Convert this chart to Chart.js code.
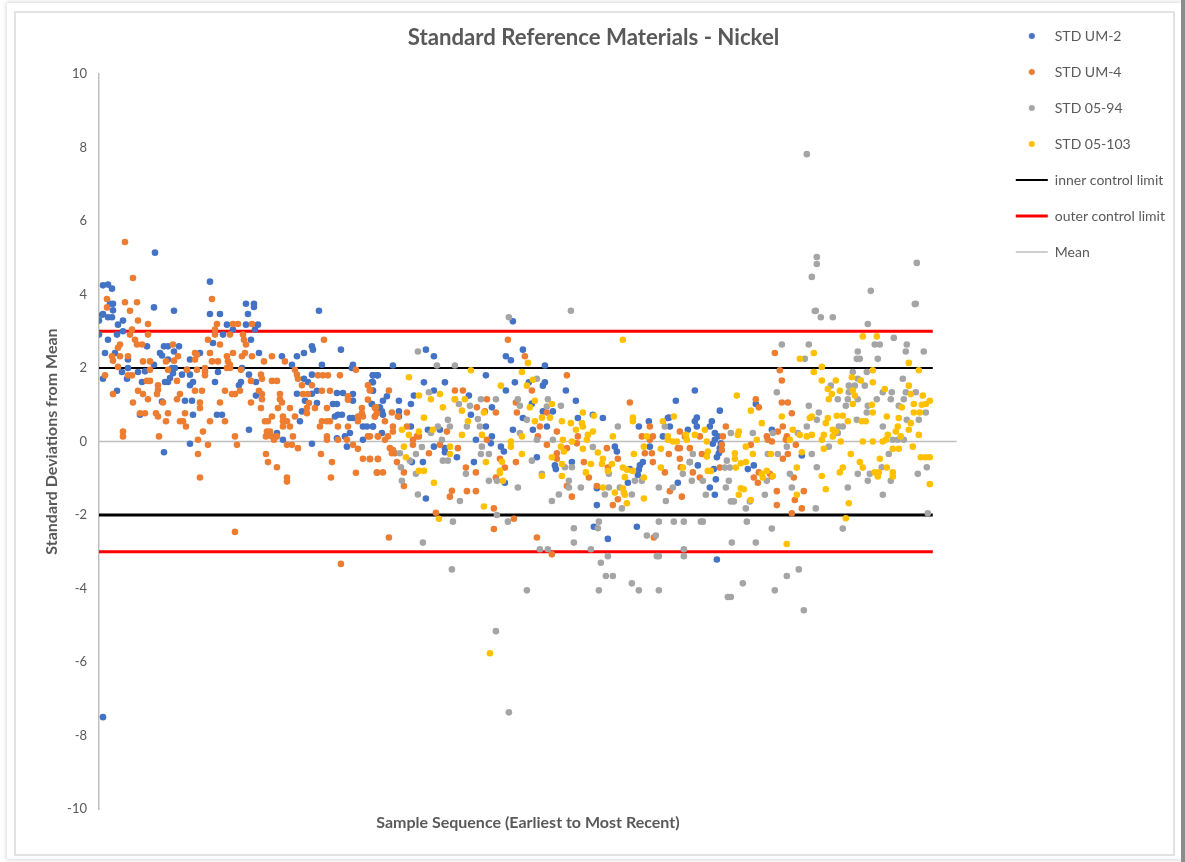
<!DOCTYPE html>
<html><head><meta charset="utf-8">
<script src="https://cdn.jsdelivr.net/npm/chart.js@4"></script>
<style>
html,body{margin:0;padding:0;background:#fff;width:1185px;height:862px;overflow:hidden}
#shadow{position:absolute;left:7px;top:3px;width:1174px;height:856px;box-sizing:border-box;background:#fff;box-shadow:0 0 4px 1px #d8d8d8}
#edge{position:absolute;left:1181px;top:0;width:4px;height:862px;background:#8c8c8c}
#frame{position:absolute;left:14px;top:11px;width:1161px;height:845px;box-sizing:border-box;border:2px solid #e2e2e2;background:#fff}
#wrap{position:absolute;left:0;top:0;width:1185px;height:862px}
canvas{filter:blur(.45px)}
</style></head><body>
<div id="shadow"></div><div id="edge"></div><div id="frame"></div>
<div id="wrap"><canvas id="c" width="1185" height="862"></canvas></div>
<script>
const chartTitle="Standard Reference Materials - Nickel";
const xTitle="Sample Sequence (Earliest to Most Recent)";
const yTitle="Standard Deviations from Mean";
const yTicks=[-10,-8,-6,-4,-2,0,2,4,6,8,10];
const limitEnd=834, seqEnd=858;
const innerLimits=[2,-2], outerLimits=[3,-3], meanValue=0;
const stdUm2=[[4,-7.5],[0,2.91],[0,3.29],[3,3.45],[4,4.25],[9,4.27],[13,4.16],[4,3.47],[9,3.38],[13,3.38],[14,3.75],[11,3.75],[14,3.57],[9,2.77],[6,2.41],[4,1.71],[18,2.91],[16,2.41],[19,3.18],[24,3.29],[24,3.0],[18,1.38],[23,1.89],[29,2.23],[29,2.0],[28,1.71],[39,1.89],[46,1.91],[41,.73],[43,1.62],[56,5.14],[55,3.65],[75,3.56],[48,2.59],[61,2.41],[63,2.34],[65,2.59],[69,2.59],[75,2.45],[80,2.59],[55,2.09],[69,2.23],[73,2.0],[76,2.0],[74,1.86],[71,1.73],[66,1.62],[69,1.62],[63,1.09],[65,-.29],[86,1.11],[93,1.11],[94,.73],[91,1.53],[94,1.62],[91,2.23],[101,2.41],[83,1.82],[91,1.82],[88,1.95],[111,4.35],[111,3.47],[121,3.47],[114,2.68],[128,3.18],[124,2.91],[134,3.05],[119,1.89],[116,1.62],[118,.73],[123,.73],[147,3.75],[149,3.47],[147,3.18],[155,3.75],[155,3.66],[159,3.18],[156,3.05],[152,2.77],[160,2.41],[150,1.82],[143,2.0],[142,1.62],[140,1.53],[157,1.62],[157,1.25],[150,.32],[91,-.06],[178,.23],[184,.05],[183,2.32],[193,2.09],[198,2.32],[205,2.41],[213,2.59],[214,2.5],[220,3.56],[242,2.5],[223,2.09],[213,1.82],[205,1.71],[209,1.62],[198,1.3],[206,1.11],[213,1.3],[218,1.38],[203,.82],[201,.55],[218,1.05],[234,1.02],[238,1.02],[236,.68],[239,.73],[243,.73],[238,1.32],[244,1.32],[254,2.09],[253,2.0],[254,1.29],[254,1.11],[251,.64],[254,.64],[259,.64],[264,.41],[268,.41],[274,.41],[264,.05],[251,.23],[246,.14],[238,.09],[248,-.14],[213,-.06],[274,1.8],[278,1.8],[273,1.62],[274,1.38],[273,1.02],[279,.91],
[294,2.07],[327,2.5],[335,2.32],[414,3.27],[407,2.32],[412,2.21],[424,2.5],[446,2.07],[387,1.8],[325,1.61],[346,1.61],[274,1.8],[279,1.8],[274,1.61],[335,1.39],[274,1.39],[416,1.61],[407,1.39],[430,1.61],[444,1.52],[446,1.61],[467,1.39],[288,1.23],[284,1.11],[300,1.11],[315,1.25],[312,1.02],[477,1.11],[393,.93],[370,1.25],[273,1.02],[281,.93],[283,.82],[284,.73],[300,.82],[300,.68],[372,.73],[454,.82],[444,.82],[424,.64],[433,1.03],[479,.64],[494,.73],[504,.64],[274,.41],[283,.23],[312,.41],[329,.32],[341,.32],[387,.41],[434,.32],[414,.32],[448,.41],[540,.41],[550,.55],[569,.64],[377,.05],[393,.14],[392,-.05],[402,-.14],[405,-.27],[516,-.14],[518,-.27],[564,.14],[551,-.14],[335,-.14],[346,-.18],[346,-.29],[358,-.43],[324,-.56],[313,-.56],[375,-.56],[438,-.43],[473,-.56],[456,-.65],[457,-.75],[531,-.75],[541,-.65],[544,-.56],[540,-.77],[539,-.91],[529,-1.12],[406,-1.12],[498,-1.27],[327,-1.55],[498,-1.73],[495,-2.32],[538,-2.32],[509,-2.65],
[596,1.39],[577,1.11],[621,.84],[657,1.02],[570,.65],[598,.65],[596,.55],[613,.55],[611,.41],[571,.41],[598,.41],[589,.32],[616,.23],[619,.14],[616,.05],[614,-.06],[622,-.05],[621,-.18],[620,-.32],[618,-.43],[673,.32],[703,-.38],[599,-.65],[655,-.65],[649,-.75],[615,-.75],[617,-1.03],[579,-1.12],[611,-1.25],[616,-1.45],[618,-3.21],[591,-.56]];
const stdUm4=[[136,-2.46],[242,-3.33],[26,5.43],[34,4.45],[26,3.79],[38,3.79],[8,3.88],[8,3.65],[31,3.56],[39,3.29],[49,3.2],[33,3.05],[31,2.91],[49,2.91],[36,2.77],[38,2.64],[43,2.64],[21,2.64],[19,2.55],[13,2.32],[14,2.2],[21,2.32],[29,2.32],[19,2.03],[33,1.8],[29,1.8],[6,1.8],[44,2.18],[51,2.18],[51,1.95],[48,1.65],[51,1.65],[39,1.38],[44,1.29],[49,1.15],[34,1.06],[59,1.53],[59,1.41],[58,1.29],[41,.77],[46,.77],[57,.77],[59,.68],[24,.27],[24,.14],[60,.14],[14,1.29],[67,.55],[69,.77],[64,1.06],[74,2.64],[79,2.32],[75,2.2],[67,2.18],[69,1.95],[78,1.65],[81,1.29],[78,1.15],[81,.55],[86,.77],[84,.55],[87,.41],[96,2.41],[98,2.36],[96,2.23],[88,1.95],[98,1.95],[96,1.38],[103,1.38],[101,1.06],[101,.91],[104,.27],[99,.05],[109,-.09],[99,-.34],[101,-.98],[109,2.77],[118,3.2],[116,3.05],[116,2.91],[111,2.41],[113,2.18],[119,2.18],[106,2.0],[106,1.91],[106,1.8],[113,3.88],[121,2.64],[111,.55],[121,1.06],[126,1.38],[126,.55],[128,2.32],[129,2.18],[131,2.09],[128,2.0],[131,2.0],[134,2.41],[131,2.91],[134,3.2],[139,3.2],[144,2.91],[145,2.77],[147,2.64],[146,2.41],[143,2.32],[153,2.32],[153,3.2],[142,1.95],[152,1.65],[141,1.38],[136,1.29],[133,1.29],[152,1.06],[136,.14],[138,-.09],[165,2.18],[173,2.32],[186,2.18],[196,1.95],[198,1.82],[199,1.71],[203,1.53],[162,1.82],[163,1.71],[173,1.65],[178,1.65],[160,1.38],[163,1.29],[163,1.15],[162,.91],[181,1.29],[181,1.15],[183,1.06],[179,.91],[191,.91],[166,.55],[169,.55],[173,.68],[184,.68],[196,.68],[184,.55],[188,.55],[191,.41],[184,.41],[168,.27],[171,.27],[167,.14],[173,.14],[178,.14],[175,.05],[194,.14],[188,-.09],[193,-.09],[199,-.18],[167,-.34],[169,-.56],[178,-.7],[188,-.98],[188,-1.09],[204,1.29],[209,1.29],[213,1.53],[210,1.05],[208,.91],[208,.77],[216,.91],[225,2.77],[219,1.8],[224,1.8],[229,1.8],[241,1.8],[223,1.38],[231,1.38],[228,.91],[221,.41],[223,.55],[228,.55],[231,.55],[228,.14],[228,.05],[239,.05],[248,.05],[222,-.34],[233,-.56],[232,-.98],[239,.41],[249,.41],[249,1.23],[249,1.14],[257,1.95],[263,.91],[263,.77],[264,.68],[259,.68],[259,.55],[269,1.53],[271,1.41],[269,1.14],[276,.91],[278,.77],[276,.68],[269,.14],[279,.14],[254,-.09],[259,-.2],[264,-.47],[271,-.47],[279,-.47],[257,-.85],[278,-.85],
[409,2.77],[426,2.32],[468,1.8],[290,1.39],[356,1.39],[364,1.39],[433,1.39],[356,1.15],[388,1.15],[417,1.06],[531,1.06],[378,.93],[386,.82],[397,.79],[418,.79],[448,.79],[277,.93],[278,.77],[276,.68],[293,.79],[299,.68],[308,.79],[286,.55],[294,.41],[294,.27],[308,.41],[348,.27],[441,.41],[388,.05],[279,.14],[289,.14],[286,.05],[318,.14],[314,.05],[314,-.09],[320,.14],[458,.27],[551,.41],[439,.14],[448,-.09],[543,.14],[554,.14],[479,.14],[478,-.05],[551,.05],[341,-.09],[359,-.18],[468,-.18],[291,-.18],[294,-.23],[296,-.32],[293,-.32],[330,-.32],[508,-.18],[546,-.32],[553,-.32],[519,-.47],[271,-.48],[279,-.48],[298,-.56],[401,-.47],[417,-.56],[458,-.32],[458,-.47],[485,-.56],[509,-.71],[406,-.71],[367,-.71],[278,-.84],[284,-.84],[305,-.84],[377,-.84],[490,-.98],[397,-.98],[566,-.84],[554,-.56],[305,-1.21],[468,-1.21],[498,-1.21],[353,-1.34],[368,-1.35],[377,-1.35],[351,-1.5],[473,-1.5],[519,-1.57],[514,-1.73],[395,-1.82],[337,-1.94],[415,-2.1],[395,-2.38],[438,-2.61],[290,-2.61],[453,-3.07],[555,-2.61],[571,-1.35],[271,.14],[271,1.39],
[676,2.41],[681,1.94],[683,1.66],[657,1.15],[660,.93],[683,1.06],[689,1.06],[693,.77],[627,.41],[684,.41],[679,.27],[673,0],[668,.14],[669,.05],[688,.14],[687,.05],[697,-.09],[581,.27],[601,.14],[586,.14],[581,-.18],[579,-.18],[591,-.18],[624,.14],[623,-.09],[623,-.23],[570,-.34],[581,-.47],[603,-.34],[689,-.34],[684,-.47],[582,-.7],[594,-.84],[601,-.98],[621,-.71],[655,-.98],[660,-.84],[659,-1.12],[671,-.88],[695,-.98],[673,-.95],[583,-1.5],[678,-1.35],[705,-1.35],[696,-1.59],[678,-1.73],[703,-1.82],[693,-1.95],[652,-.09]];
const std0594=[[397,-5.16],[410,-7.37],[708,7.82],[718,5.02],[718,4.83],[713,4.48],[772,4.1],[818,4.86],[816,3.74],[716,3.55],
[410,3.38],[472,3.56],[319,2.45],[338,2.07],[356,2.07],[438,1.71],[330,1.34],[419,1.15],[382,1.15],[397,1.15],[449,1.15],[360,1.02],[462,.97],[371,.97],[421,.97],[448,.95],[379,.61],[349,.59],[428,.59],[339,.41],[351,.41],[368,.41],[381,.41],[519,.41],[566,.41],[332,.23],[421,.23],[343,.05],[454,.05],[438,.05],[383,-.14],[323,-.15],[301,-.32],[317,-.34],[382,-.34],[390,-.34],[494,-.15],[433,-.52],[311,-.52],[344,-.52],[349,-.52],[302,-.7],[317,-.88],[367,-.88],[466,-.7],[473,-.7],[510,-.88],[303,-1.07],[390,-1.07],[398,-1.07],[443,-.88],[470,-1.07],[470,-1.25],[419,-1.25],[482,-1.25],[510,-1.25],[521,-1.25],[319,-1.44],[460,-1.44],[506,-1.44],[533,-1.44],[560,-1.25],[536,-1.07],[543,-1.07],[453,-1.62],[361,-1.62],[523,-1.82],[567,-1.62],[398,-2.0],[354,-2.18],[409,-2.18],[500,-2.18],[560,-2.18],[499,-2.36],[475,-2.36],[324,-2.75],[475,-2.75],[548,-2.56],[557,-2.56],[441,-2.93],[449,-2.93],[492,-2.93],[509,-3.12],[558,-3.12],[560,-3.12],[502,-3.3],[353,-3.48],[507,-3.66],[514,-3.66],[533,-3.86],[428,-4.05],[500,-4.05],[540,-4.05],[560,-4.05],
[717,3.56],[722,3.38],[734,3.38],[817,3.75],[769,3.2],[683,2.64],[710,2.64],[776,2.64],[781,2.64],[795,2.82],[808,2.64],[759,2.45],[807,2.45],[825,2.45],[758,2.25],[761,2.25],[706,2.25],[779,2.25],[754,1.89],[768,1.89],[759,1.71],[804,1.71],[732,1.52],[750,1.52],[756,1.52],[766,1.52],[678,1.34],[750,1.34],[784,1.34],[793,1.34],[807,1.34],[817,1.34],[739,1.15],[749,1.15],[759,1.15],[778,1.15],[792,1.15],[805,1.15],[710,.97],[747,.97],[769,.97],[800,.97],[720,.79],[768,.79],[827,.79],[718,.59],[758,.59],[808,.59],[820,.59],[708,.41],[740,.41],[744,.41],[784,.41],[739,.23],[632,.23],[654,.23],[674,.23],[699,.23],[794,.05],[799,.05],[805,.05],[688,-.14],[730,-.14],[594,-.34],[669,-.34],[679,-.34],[713,-.34],[790,-.34],[628,-.52],[591,-.56],[718,-.7],[783,-.7],[828,-.7],[626,-.71],[631,-.71],[584,-.88],[691,-.88],[759,-.88],[771,-.88],[819,-.88],[593,-1.07],[604,-1.07],[630,-1.07],[668,-1.07],[769,-1.07],[792,-1.07],[574,-1.25],[627,-1.25],[693,-1.25],[749,-1.25],[607,-1.45],[666,-1.45],[784,-1.45],[632,-1.63],[635,-1.63],[651,-1.63],[647,-1.82],[717,-1.82],[829,-1.95],[575,-2.18],[585,-2.18],[602,-2.18],[604,-2.18],[648,-2.18],[673,-2.37],[744,-2.37],[633,-2.75],[657,-2.75],[585,-2.93],[585,-3.12],[644,-3.86],[688,-3.66],[700,-3.48],[629,-4.23],[632,-4.23],[676,-4.05],[705,-4.59]];
const std05103=[[391,-5.76],[524,2.77],[429,2.14],[372,1.94],[423,1.89],[310,1.75],[434,1.68],[402,1.52],[428,1.52],[320,1.25],[332,1.15],[341,1.29],[356,1.15],[366,1.15],[436,1.11],[431,.93],[344,.93],[363,.84],[453,1.02],[484,.79],[495,.7],[385,.79],[325,.65],[369,.55],[436,.55],[443,.65],[451,.65],[463,.55],[472,.5],[483,.5],[484,.41],[477,.32],[534,.65],[534,.55],[564,.55],[303,.32],[334,.32],[320,.27],[310,.18],[363,.18],[383,.18],[423,.14],[494,.27],[489,.18],[488,.05],[514,.14],[464,.05],[473,0],[548,.14],[569,.14],[569,.05],[412,0],[412,-.14],[305,-.14],[351,-.14],[462,-.14],[351,-.34],[465,-.27],[484,-.2],[545,-.14],[562,-.2],[307,-.43],[423,-.34],[453,-.43],[535,-.34],[387,-.56],[403,-.55],[463,-.61],[499,-.3],[504,-.47],[503,-.61],[513,-.61],[492,-.61],[401,-.8],[401,-.86],[320,-.8],[325,-.8],[443,-.94],[463,-.94],[487,-.84],[509,-.8],[524,-.71],[528,-.77],[534,-.8],[526,-.97],[545,-.98],[562,-.71],[404,-1.07],[335,-1.12],[504,-1.25],[516,-1.39],[524,-1.27],[525,-1.39],[526,-1.45],[545,-1.55],[528,-1.68],[385,-1.77],[340,-2.1],
[764,2.86],[778,2.86],[715,2.41],[701,2.25],[810,2.14],[723,2.03],[715,1.89],[774,1.94],[820,1.94],[753,1.75],[723,1.66],[737,1.66],[762,1.66],[774,1.61],[810,1.52],[729,1.43],[741,1.38],[786,1.43],[754,1.39],[756,1.25],[733,1.29],[730,1.15],[812,1.29],[824,1.25],[638,1.25],[831,1.11],[773,1.0],[754,1.02],[815,1.02],[823,1.0],[827,1.02],[803,.93],[652,.84],[774,.79],[815,.79],[821,.79],[683,.68],[713,.68],[711,.64],[738,.7],[744,.7],[788,.68],[800,.64],[729,.64],[727,.5],[749,.55],[763,.55],[767,.55],[663,.5],[812,.5],[799,.41],[734,.32],[810,.32],[797,.27],[694,.32],[640,.27],[639,.18],[701,.18],[708,.14],[713,.18],[725,.18],[734,.14],[737,.27],[789,.18],[820,.18],[802,.14],[575,.68],[606,.32],[596,.18],[587,.18],[588,.05],[574,0],[578,0],[608,0],[658,.05],[691,.05],[723,.05],[742,0],[764,0],[774,0],[784,0],[787,.05],[647,-.14],[725,-.2],[814,-.14],[794,-.2],[800,-.2],[609,-.27],[608,-.41],[636,-.32],[636,-.47],[654,-.34],[672,-.34],[703,-.29],[752,-.34],[822,-.43],[827,-.43],[831,-.43],[781,-.47],[761,-.56],[637,-.71],[642,-.59],[647,-.56],[764,-.71],[744,-.71],[741,-.84],[698,-.71],[788,-.71],[794,-.84],[794,-.95],[776,-.84],[780,-.84],[779,-.95],[584,-.71],[609,-.8],[612,-.8],[668,-.8],[663,-.88],[674,-.94],[664,-.98],[723,-.94],[642,-1.27],[645,-1.3],[640,-1.45],[652,-1.59],[727,-1.3],[831,-1.16],[698,-1.45],[750,-1.68],[747,-2.09],[688,-2.79]];

const FONT="Lato, Carlito, sans-serif", TXT="#595959";
const pts=a=>a.map(p=>({x:p[0],y:p[1]}));
const twoLevels=v=>[{x:0,y:v[0]},{x:limitEnd,y:v[0]},{x:null,y:null},{x:0,y:v[1]},{x:limitEnd,y:v[1]}];
const dot=(name,data,color,order)=>({label:name,data:pts(data),showLine:false,pointRadius:3.3,pointHoverRadius:3.3,
  pointBackgroundColor:color,backgroundColor:color,borderColor:color,pointBorderWidth:0,order});
function dotImage(color){const c=document.createElement('canvas');c.width=8;c.height=8;const g=c.getContext('2d');
  g.fillStyle=color;g.beginPath();g.arc(4,4,3,0,Math.PI*2);g.fill();return c;}
new Chart(document.getElementById('c'),{
 type:'scatter',
 data:{datasets:[
  dot('STD UM-2',stdUm2,'#4472C4',4),
  dot('STD UM-4',stdUm4,'#ED7D31',3),
  dot('STD 05-94',std0594,'#A5A5A5',2),
  dot('STD 05-103',std05103,'#FFC000',1),
  {label:'inner control limit',data:twoLevels(innerLimits),showLine:true,spanGaps:false,pointRadius:0,pointStyle:'line',borderColor:'#000',backgroundColor:'#000',borderWidth:2,
    segment:{borderWidth:c=>c.p0.parsed.y<0?3:2},order:6},
  {label:'outer control limit',data:twoLevels(outerLimits),showLine:true,spanGaps:false,pointRadius:0,pointStyle:'line',borderColor:'#FF0000',backgroundColor:'#FF0000',borderWidth:3,order:5},
  {label:'Mean',data:[{x:0,y:meanValue},{x:seqEnd,y:meanValue}],showLine:true,pointRadius:0,pointStyle:'line',borderColor:'#BFBFBF',backgroundColor:'#BFBFBF',borderWidth:1.5,order:7}
 ]},
 options:{
  responsive:false,animation:false,
  layout:{padding:{top:7,right:10,left:12,bottom:0}},
  plugins:{
   tooltip:{enabled:false},
   title:{display:true,text:chartTitle,color:TXT,font:{family:FONT,size:22.2,weight:'bold'},padding:{top:18,bottom:22.4}},
   legend:{position:'right',align:'start',labels:{usePointStyle:true,pointStyleWidth:32,boxHeight:14,padding:22,color:TXT,font:{family:FONT,size:14},
     sort:(a,b)=>a.datasetIndex-b.datasetIndex,
     generateLabels(ch){return Chart.defaults.plugins.legend.labels.generateLabels(ch).map(it=>{
       const i=it.datasetIndex;
       if(i<4)it.pointStyle=dotImage(ch.data.datasets[i].borderColor);else it.pointStyle='line';return it;});}}}
  },
  scales:{
   x:{type:'linear',position:'bottom',min:0,max:seqEnd,grid:{display:false},border:{display:false},ticks:{display:false},
      title:{display:true,text:xTitle,color:TXT,font:{family:FONT,size:16,weight:'bold'},padding:{top:0,bottom:29.4}},
      afterFit(s){s.height=53;}},
   y:{type:'linear',position:'left',min:-10,max:10,grid:{display:false,drawTicks:false},border:{display:true,color:'#BFBFBF',width:1.5},
      afterBuildTicks(s){s.ticks=yTicks.map(v=>({value:v}));},
      ticks:{color:TXT,padding:12,font:{family:FONT,size:13}},
      title:{display:true,text:yTitle,color:TXT,font:{family:FONT,size:16,weight:'bold'},padding:{top:30.4,bottom:0}},
      afterFit(s){s.width=87;}},
   gap:{type:'linear',position:'right',display:true,grid:{display:false},border:{display:false},ticks:{display:false},afterFit(s){s.width=37;}}
  }
 }
});
</script></body></html>
